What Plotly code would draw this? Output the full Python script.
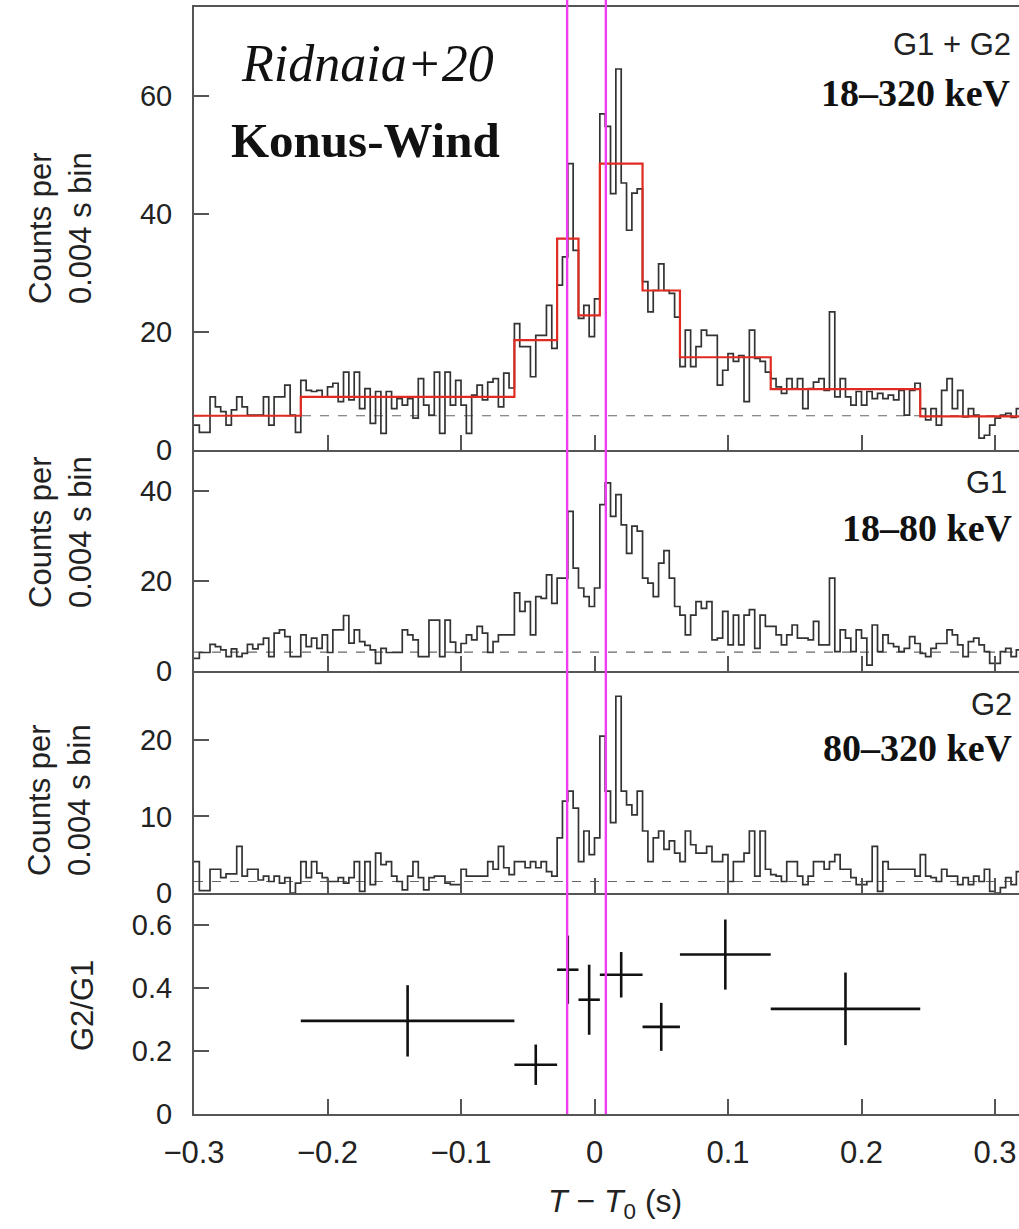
import numpy as np
import plotly.graph_objects as go

# ---------------- data ----------------
BIN = 0.004
T_START = -0.3

# G1+G2 (18-320 keV) counts per 0.004 s bin
g12 = [4.2, 3.0, 3.0, 9.0, 7.3, 6.5, 4.2, 6.8, 9.0, 7.3, 5.9, 5.9, 5.9, 9.0, 4.2, 9.0, 9.0, 11.0, 5.9, 3.0,
       11.8, 10.1, 9.9, 10.1, 9.0, 10.7, 11.3, 8.2, 13.2, 8.5, 13.2, 7.0, 10.4, 4.5, 9.9, 2.8, 9.9, 7.0, 8.7, 7.6,
       8.7, 5.4, 12.1, 7.6, 5.9, 13.2, 2.8, 13.2, 7.6, 11.8, 7.6, 2.8, 9.3, 11.0, 8.5, 11.5, 12.1, 7.3, 13.0, 10.5,
       21.4, 17.5, 17.5, 12.4, 19.4, 19.4, 24.5, 17.2,
       27.9, 32.7, 48.5, 33.8,
       22.3, 24.5, 19.2, 25.6,
       56.9, 54.8, 43.4, 64.5, 45.2, 37.2, 43.5, 44.2,
       28.5, 23.4, 27.0, 31.5, 27.0, 26.5, 22.5,
       14.1, 20.3, 14.1, 17.5, 20.3, 19.4, 19.4, 11.0, 13.5, 16.3, 15.0, 16.0, 8.2, 20.3, 15.5, 15.0, 13.2,
       12.1, 10.7, 9.6, 12.1, 10.4, 12.1, 7.0, 10.4, 11.5, 12.1, 10.1, 23.4, 9.0, 12.1, 9.0, 7.6, 9.9, 7.6, 9.9, 8.7,
       9.6, 8.7, 9.3, 8.5, 10.1, 5.9, 10.1, 11.3,
       7.0, 5.1, 7.0, 4.2, 10.1, 12.1, 7.0, 10.1, 5.6, 7.0, 5.9, 2.0, 2.5, 4.2, 5.4, 5.9, 6.2, 5.5, 7.0]

# G1 (18-80 keV)
g1 = [2.8, 4.1, 4.1, 5.9, 5.4, 4.7, 3.2, 4.9, 3.2, 3.9, 5.9, 4.9, 5.9, 7.3, 3.2, 8.4, 9.1, 7.6, 3.2, 3.2,
      8.0, 5.4, 7.3, 5.0, 8.0, 4.1, 9.1, 9.1, 12.3, 6.2, 9.1, 6.5, 5.7, 4.7, 1.7, 5.0, 4.1, 4.1, 4.1, 9.1,
      8.0, 6.9, 3.2,
      3.2, 11.3, 11.3, 3.2, 11.3, 6.4, 4.1, 6.1, 8.0, 6.9, 9.9, 8.4, 4.1, 6.5, 8.0, 8.0, 8.0, 17.3, 13.2, 15.4,
      8.0, 16.5, 16.1, 21.3, 15.0, 20.6, 20.6, 35.4, 22.8, 18.4, 16.5, 14.3, 18.4,
      36.9, 41.7, 34.3, 39.1, 32.4, 26.1, 32.1, 31.0, 20.6, 19.5, 16.5, 23.9, 26.7, 20.6, 14.3, 12.4, 8.0, 12.4,
      15.4, 13.9, 15.4, 6.9, 7.3, 13.2, 5.8, 12.4, 5.8, 12.4, 13.6, 5.0, 12.4, 9.9, 9.9, 8.0, 5.8, 8.0, 10.2,
      7.3, 7.3, 6.9, 11.0, 5.8, 5.8, 20.6, 4.3, 9.1, 7.3, 4.3, 9.1, 7.3, 1.3, 10.2, 4.3, 8.0, 6.1, 5.4, 4.3, 5.0,
      7.6, 6.1, 3.9, 3.2, 5.0, 6.1, 6.1, 9.1, 8.0, 5.8, 3.2, 6.5, 7.3, 5.8, 4.3, 1.7, 1.7, 4.3, 5.0, 3.2, 4.7]

# G2 (80-320 keV)
g2 = [4.1, 0.3, 0.3, 3.1, 3.1, 2.0, 2.5, 2.5, 6.1, 2.2, 3.1, 3.1, 1.7, 2.2, 1.5, 2.2, 1.3, 2.0, 0.0, 1.3,
      4.1, 2.0, 4.1, 2.6, 2.0, 1.5, 1.5, 2.0, 1.3, 2.0, 4.1, 0.2, 4.1, 1.1, 5.2, 3.7, 4.1, 2.2, 1.5, 0.4,
      2.2, 4.1, 2.0, 0.4, 2.0, 2.2, 2.2, 1.3, 1.1, 1.1, 3.1, 2.2, 2.2, 2.2, 2.2, 4.1, 3.1, 6.1, 3.3, 2.4,
      4.1, 4.1, 3.3, 4.1, 3.3, 4.1, 2.8, 2.2, 7.2, 12.0, 13.3, 11.1, 4.1, 8.1, 5.0, 7.2,
      20.5, 13.3, 9.2, 25.7, 13.3, 11.5, 10.2, 13.3, 8.1, 4.1, 7.2, 8.1, 5.7, 6.8, 5.2, 4.1, 8.1, 6.3, 5.2, 5.2,
      6.1, 4.1, 4.1, 5.0, 1.5, 4.1, 4.1, 5.2, 8.1, 2.2, 8.1, 3.1, 2.4, 2.2, 1.5, 4.1, 4.1, 2.2, 1.1, 2.2,
      4.1, 4.1, 3.1, 4.1, 5.0, 3.1, 3.1, 2.0, 1.1, 1.1, 1.5, 6.1, 0.2, 4.1, 3.1, 3.1, 3.1, 3.1, 3.1, 2.2,
      5.0, 2.2, 2.0, 1.5, 3.1, 2.2, 2.2, 1.1, 2.0, 1.1, 2.2, 1.5, 3.1, 0.2, 0.0, 0.7, 2.0, 1.1, 2.8]

# Bayesian blocks (G1+G2)
bb_edges = [-0.3, -0.22, -0.06, -0.028, -0.012, 0.004, 0.036, 0.064, 0.132, 0.244, 0.32]
bb_levels = [5.8, 9.0, 18.6, 35.8, 22.8, 48.5, 27.0, 15.7, 10.3, 5.7]

# background levels (dashed)
bkg = [5.8, 4.2, 1.5]

# hardness ratio G2/G1
ratio_t = [-0.14, -0.044, -0.02, -0.004, 0.02, 0.05, 0.098, 0.188]
ratio_terr = [0.08, 0.016, 0.008, 0.008, 0.016, 0.014, 0.034, 0.056]
ratio = [0.295, 0.156, 0.457, 0.362, 0.441, 0.276, 0.505, 0.333]
ratio_err = [0.113, 0.064, 0.108, 0.111, 0.072, 0.076, 0.111, 0.115]

# vertical marker times
marker_t = [-0.0205, 0.0085]

x_ticks = [-0.3, -0.2, -0.1, 0, 0.1, 0.2, 0.3]
x_ticktext = ["\u22120.3", "\u22120.2", "\u22120.1", "0", "0.1", "0.2", "0.3"]
y_ticks = [[0, 20, 40, 60], [0, 20, 40], [0, 10, 20], [0, 0.2, 0.4, 0.6]]
y_ranges = [[0, 75], [0, 49], [0, 29], [0, 0.70]]

assert len(g12) == len(g1) == len(g2), (len(g12), len(g1), len(g2))

# ---------------- layout geometry ----------------
W, H = 1019, 1229
ML, MT, MB = 194, 7, 115
plot_h = H - MT - MB
bounds = [7, 450, 671, 893, 1114]
def py(p):
    return (1114 - p) / plot_h
domains = [[py(bounds[k + 1]), py(bounds[k])] for k in range(4)]
X_RANGE = [-0.3, -0.3 + (W - ML) / 1335.0]

FONT = "Liberation Sans, Arial, Helvetica, sans-serif"
SERIF = "Liberation Serif, Times New Roman, serif"
AX = "#555555"
HIST = "#333333"

fig = go.Figure()

n = len(g12)
edges = T_START + BIN * np.arange(n + 1)

def step_trace(vals, k):
    y = list(vals) + [vals[-1]]
    sfx = "" if k == 1 else str(k)
    return go.Scatter(x=edges, y=y, mode="lines", line=dict(color=HIST, width=1.7, shape="hv"),
                      xaxis="x" + sfx, yaxis="y" + sfx, showlegend=False, hoverinfo="skip")

for k, vals in enumerate([g12, g1, g2], start=1):
    sfx = "" if k == 1 else str(k)
    fig.add_trace(go.Scatter(x=[X_RANGE[0], X_RANGE[1]], y=[bkg[k - 1]] * 2, mode="lines",
                             line=dict(color="#666666", width=1.2, dash="dash"),
                             xaxis="x" + sfx, yaxis="y" + sfx, showlegend=False, hoverinfo="skip"))
    fig.add_trace(step_trace(vals, k))

# Bayesian blocks in red
fig.add_trace(go.Scatter(x=bb_edges, y=bb_levels + [bb_levels[-1]], mode="lines",
                         line=dict(color="#e02a22", width=2.2, shape="hv"),
                         xaxis="x", yaxis="y", showlegend=False, hoverinfo="skip"))

# Ratio with error bars
fig.add_trace(go.Scatter(x=ratio_t, y=ratio, mode="markers", marker=dict(size=1, color="#111"),
                         error_x=dict(type="data", array=ratio_terr, width=0, thickness=2.6, color="#111"),
                         error_y=dict(type="data", array=ratio_err, width=0, thickness=2.6, color="#111"),
                         xaxis="x4", yaxis="y4", showlegend=False, hoverinfo="skip"))

layout = dict(width=W, height=H, margin=dict(l=ML, r=0, t=MT, b=MB),
              paper_bgcolor="white", plot_bgcolor="white", showlegend=False,
              font=dict(family=FONT, color="#222222", size=28))

for k in range(1, 5):
    sfx = "" if k == 1 else str(k)
    layout["xaxis" + sfx] = dict(domain=[0, 1], range=X_RANGE, anchor="y" + sfx,
                                 matches=None if k == 1 else "x",
                                 showline=True, linecolor=AX, linewidth=2,
                                 mirror=(k == 1), showgrid=False, zeroline=False,
                                 ticks="inside", ticklen=15, tickwidth=2, tickcolor=AX,
                                 tickvals=x_ticks, ticktext=x_ticktext,
                                 showticklabels=(k == 4), tickfont=dict(size=31, family=FONT, color="#222"),
                                 ticklabelstandoff=10)
    layout["yaxis" + sfx] = dict(domain=domains[k - 1], range=y_ranges[k - 1], anchor="x" + sfx,
                                 showline=True, linecolor=AX, linewidth=2, showgrid=False, zeroline=False,
                                 ticks="inside", ticklen=15, tickwidth=2, tickcolor=AX,
                                 tickvals=y_ticks[k - 1],
                                 ticktext=[("0" if v == 0 else f"{v:g}") for v in y_ticks[k - 1]],
                                 tickfont=dict(size=29, family=FONT, color="#222"),
                                 ticklabelstandoff=14)

fig.update_layout(**layout)

# magenta vertical lines
for t in marker_t:
    fig.add_shape(type="line", xref="x", yref="paper", x0=t, x1=t, y0=0, y1=py(0),
                  line=dict(color="#f03cf0", width=2.4), layer="above")

def px_x(p):
    return (p - ML) / (W - ML)

ann = []
for yc in [228, 532, 800]:
    ann.append(dict(text="Counts per<br>0.004 s bin", xref="paper", yref="paper", x=px_x(60), y=py(yc),
                    textangle=-90, showarrow=False, font=dict(size=31, family=FONT, color="#222"),
                    xanchor="center", yanchor="middle"))
ann.append(dict(text="G2/G1", xref="paper", yref="paper", x=px_x(82), y=py(1005), textangle=-90,
                showarrow=False, font=dict(size=31, family=FONT, color="#222"),
                xanchor="center", yanchor="middle"))
ann.append(dict(text="<i>T</i> \u2212 <i>T</i><sub>0</sub> (s)", xref="paper", yref="paper",
                x=px_x(615), y=py(1203), showarrow=False,
                font=dict(size=32, family=FONT, color="#222"), xanchor="center", yanchor="middle"))
ann.append(dict(text="<i>Ridnaia+20</i>", xref="paper", yref="paper", x=px_x(367), y=py(63),
                showarrow=False, font=dict(size=52, family=SERIF, color="#111"),
                xanchor="center", yanchor="middle"))
ann.append(dict(text="<b>Konus-Wind</b>", xref="paper", yref="paper", x=px_x(365), y=py(140),
                showarrow=False, font=dict(size=49, family=SERIF, color="#111"),
                xanchor="center", yanchor="middle"))
for txt, xr, yc in [("G1 + G2", 1013, 44), ("G1", 1009, 482), ("G2", 1014, 704)]:
    ann.append(dict(text=txt, xref="paper", yref="paper", x=px_x(xr), y=py(yc), showarrow=False,
                    font=dict(size=31, family=FONT, color="#222"), xanchor="right", yanchor="middle"))
for txt, xr, yc in [("18\u2013320 keV", 1013, 93), ("18\u201380 keV", 1015, 528), ("80\u2013320 keV", 1015, 748)]:
    ann.append(dict(text="<b>" + txt + "</b>", xref="paper", yref="paper", x=px_x(xr), y=py(yc),
                    showarrow=False, font=dict(size=38, family=SERIF, color="#111"),
                    xanchor="right", yanchor="middle"))
fig.update_layout(annotations=ann)

fig.write_html("out.html", config={"displayModeBar": False},
               post_script="document.body.style.margin='0';document.body.style.overflow='hidden';")
